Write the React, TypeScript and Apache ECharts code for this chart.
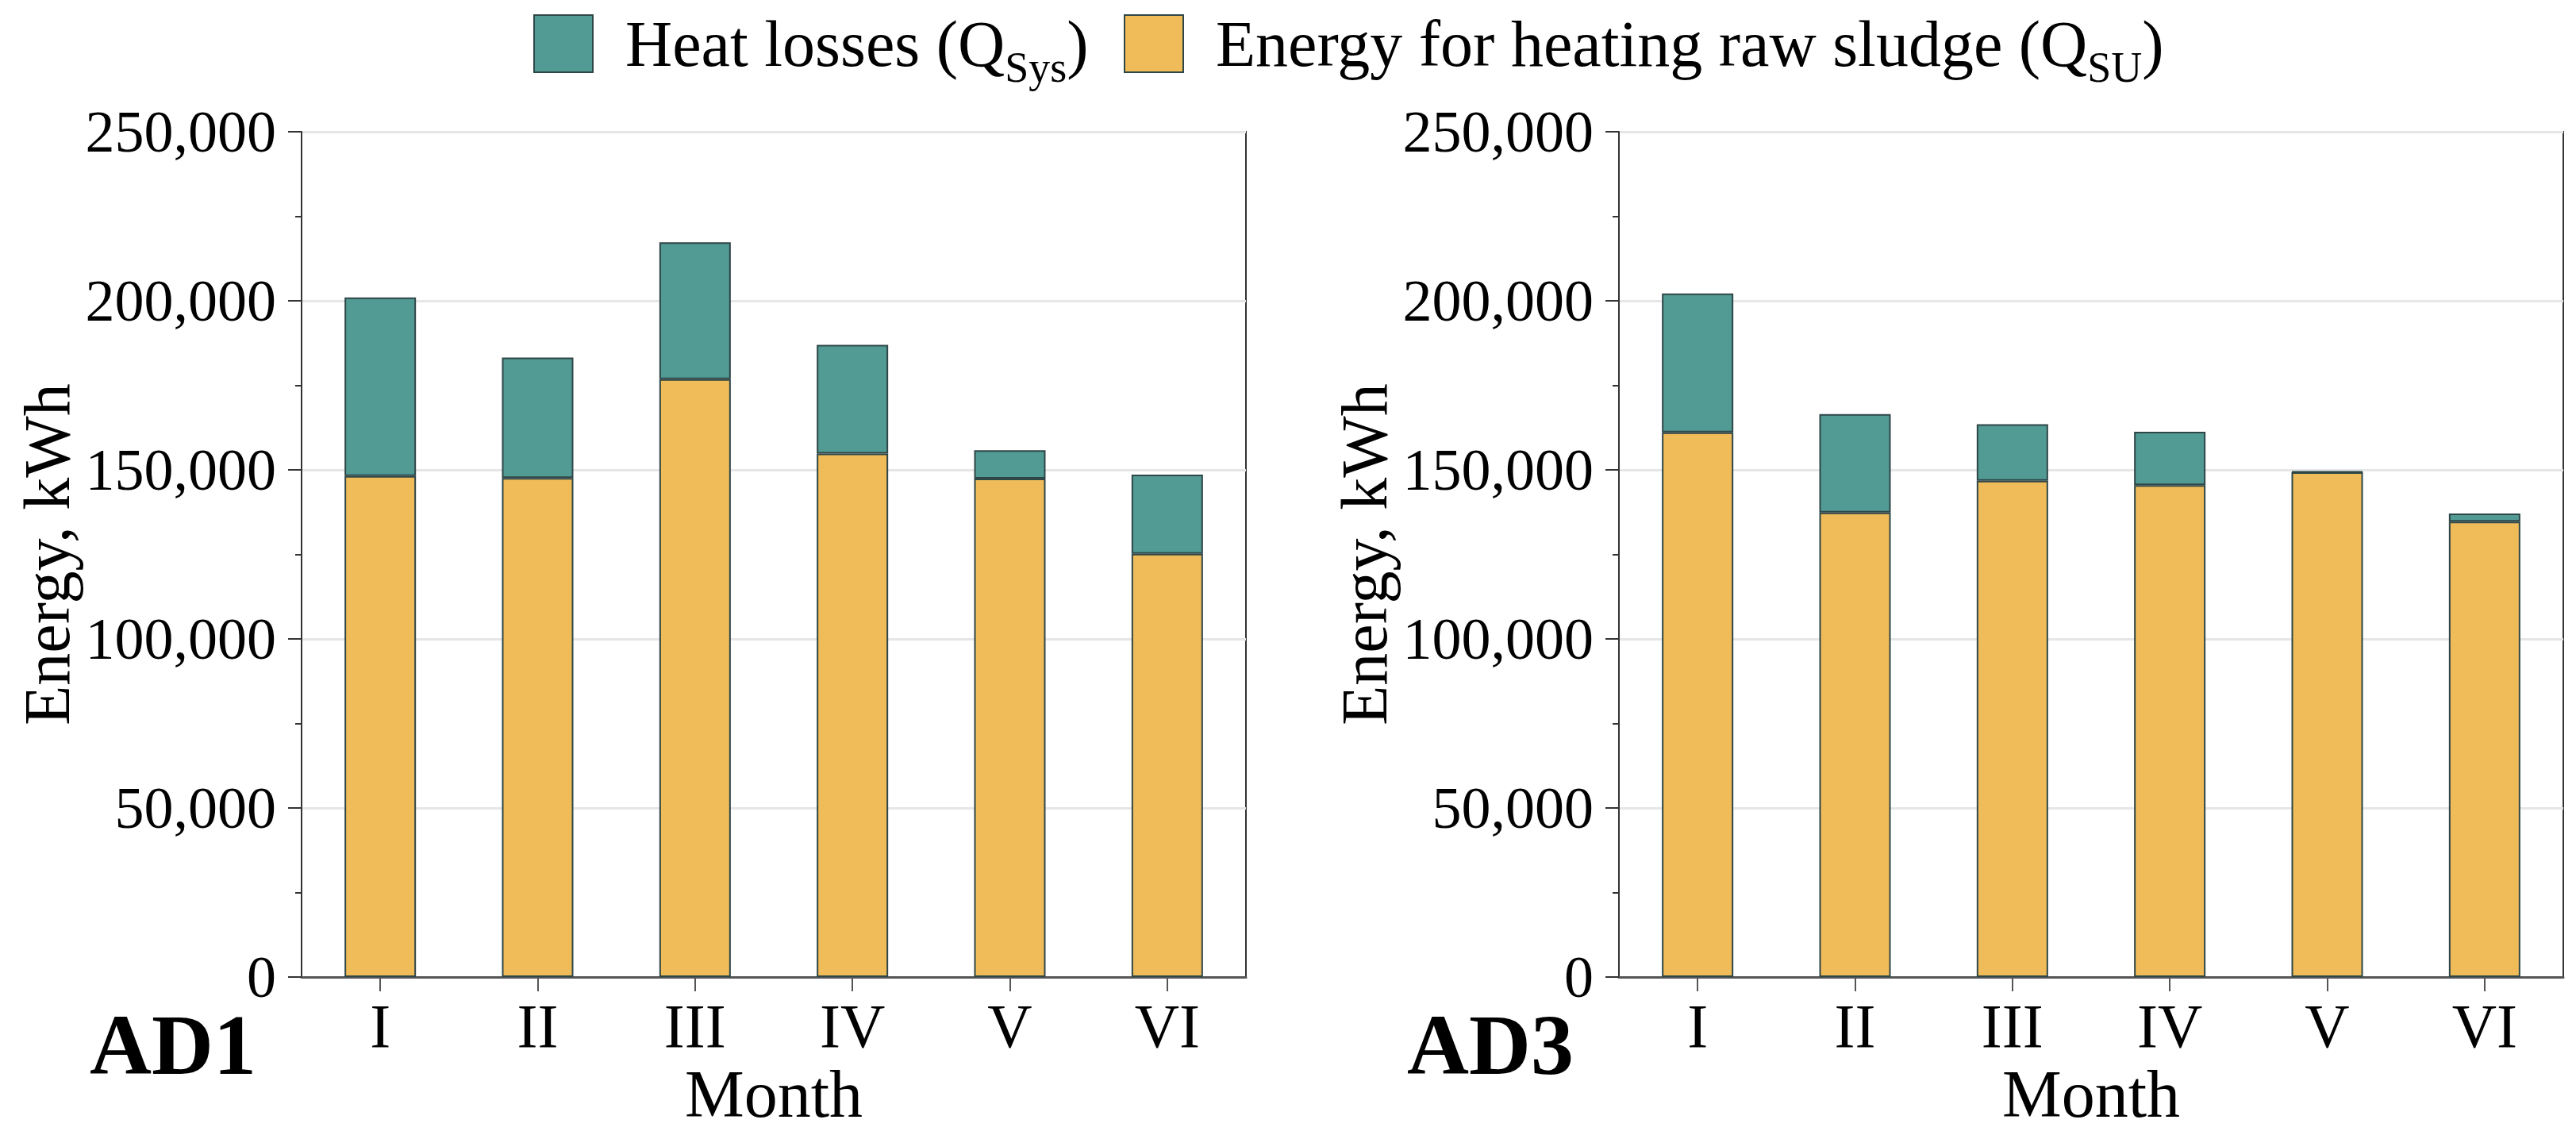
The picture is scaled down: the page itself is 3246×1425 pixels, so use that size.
import React, { useEffect, useRef } from "react";
import * as echarts from "echarts";

const categories = ["I", "II", "III", "IV", "V", "VI"];
const ad1Sludge = [148200, 147600, 176800, 154800, 147400, 125200];
const ad1Losses = [52800, 35600, 40500, 32200, 8400, 23400];
const ad3Sludge = [161100, 137400, 146800, 145500, 149300, 134700];
const ad3Losses = [41100, 29100, 16700, 15800, 200, 2400];
const yMin = 0;
const yMax = 250000;
const yInterval = 50000;
const panelTitles = ["AD1", "AD3"];
const LOSSES = "Heat losses (QSys)";
const SLUDGE = "Energy for heating raw sludge (QSU)";

const W = 3246;
const H = 1425;
const FONT = "Liberation Serif";
const TEAL = "#529A94";
const YELLOW = "#F0BC5A";
const BORDER = "#2f4647";

const gridLefts = [380, 2040];
const gridWidth = 1190;
const gridTop = 166;
const gridHeight = 1071;

function buildOption() {
  const grids = gridLefts.map((l) => ({
    left: l,
    top: gridTop,
    width: gridWidth,
    height: gridHeight,
    show: true,
    borderColor: "#333",
    borderWidth: 2,
    backgroundColor: "transparent",
  }));
  const xAxes = gridLefts.map((_, i) => ({
    type: "category",
    gridIndex: i,
    data: categories,
    name: "Month",
    nameLocation: "middle",
    nameGap: 100,
    nameTextStyle: { fontFamily: FONT, fontSize: 84, color: "#000" },
    axisLine: { show: true, lineStyle: { color: "#555", width: 3 } },
    axisTick: { show: true, alignWithLabel: true, length: 18, lineStyle: { color: "#555", width: 2 } },
    axisLabel: { fontFamily: FONT, fontSize: 78, color: "#000", margin: 22 },
    splitLine: { show: false },
  }));
  const yAxes = gridLefts.map((_, i) => ({
    type: "value",
    gridIndex: i,
    min: yMin,
    max: yMax,
    interval: yInterval,
    name: "Energy, kWh",
    nameLocation: "middle",
    nameGap: 280,
    nameTextStyle: { fontFamily: FONT, fontSize: 82, color: "#000" },
    axisLine: { show: true, lineStyle: { color: "#333", width: 2 } },
    axisTick: { show: true, length: 17, lineStyle: { color: "#333", width: 2 } },
    minorTick: { show: true, splitNumber: 2, length: 8, lineStyle: { color: "#333", width: 2 } },
    axisLabel: {
      fontFamily: FONT,
      fontSize: 74,
      color: "#000",
      margin: 32,
      formatter: (v: number) => v.toLocaleString("en-US"),
    },
    splitLine: { show: true, lineStyle: { color: "#e6e6e6", width: 3 } },
  }));
  const mk = (name: string, data: number[], color: string, idx: number) => ({
    name,
    type: "bar",
    stack: "s" + idx,
    xAxisIndex: idx,
    yAxisIndex: idx,
    data,
    barWidth: 90,
    itemStyle: { color, borderColor: BORDER, borderWidth: 2 },
  });
  const series = [
    mk(SLUDGE, ad1Sludge, YELLOW, 0),
    mk(LOSSES, ad1Losses, TEAL, 0),
    mk(SLUDGE, ad3Sludge, YELLOW, 1),
    mk(LOSSES, ad3Losses, TEAL, 1),
  ];
  const rich = {
    m: { fontFamily: FONT, fontSize: 82, color: "#000" },
    sub: { fontFamily: FONT, fontSize: 54, color: "#000", padding: [60, 0, 0, 0] },
  };
  const legendBase = {
    orient: "horizontal",
    itemWidth: 74,
    itemHeight: 72,
    padding: 0,
    icon: "rect",
    itemStyle: { borderColor: BORDER, borderWidth: 2 },
    textStyle: { fontFamily: FONT, fontSize: 82, color: "#000", padding: [0, 0, 0, 36], rich },
    formatter: (name: string) =>
      name === LOSSES
        ? "{m|Heat losses (Q}{sub|Sys}{m|)}"
        : "{m|Energy for heating raw sludge (Q}{sub|SU}{m|)}",
  };
  const legends = [
    { ...legendBase, data: [LOSSES], left: 672, top: 14 },
    { ...legendBase, data: [SLUDGE], left: 1416, top: 14 },
  ];
  const graphic = panelTitles.map((t, i) => ({
    type: "text",
    left: gridLefts[i] - 267,
    top: 1262,
    style: {
      text: t,
      font: `bold 108px "${FONT}"`,
      fill: "#000",
    },
  }));
  return {
    animation: false,
    backgroundColor: "#fff",
    grid: grids,
    xAxis: xAxes,
    yAxis: yAxes,
    legend: legends,
    series,
    graphic,
  };
}

export default function App() {
  const ref = useRef<HTMLDivElement>(null);
  useEffect(() => {
    document.body.style.margin = "0";
    const chart = echarts.init(ref.current!, null, { renderer: "svg" });
    chart.setOption(buildOption() as any);
    return () => chart.dispose();
  }, []);
  return <div ref={ref} style={{ width: W, height: H }} />;
}
